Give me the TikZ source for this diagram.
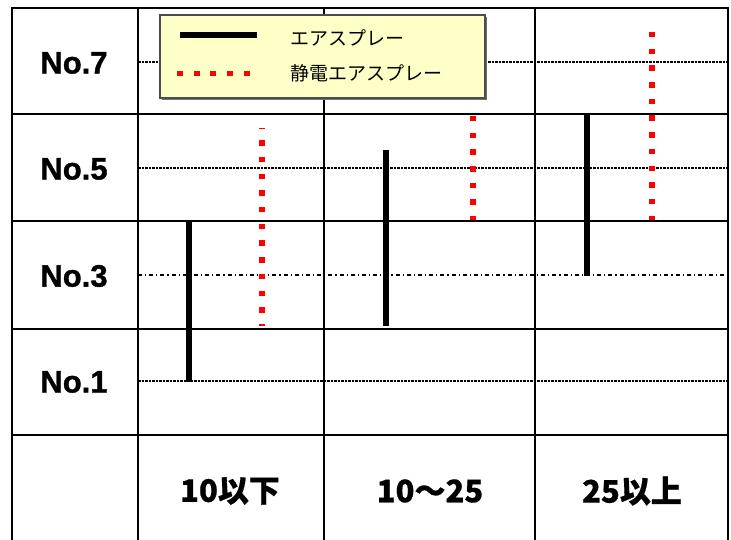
\documentclass[tikz,border=0pt]{standalone}
\usepackage{fontspec}
\setmainfont{Liberation Sans}
\newfontfamily\cjk{Noto Sans CJK JP}
\begin{document}
\begin{tikzpicture}[x=1pt,y=-1pt,
 gridline/.style={line width=1.8pt},
 fineline/.style={line width=1.2pt, dash pattern=on 2.5pt off 1pt},
 dashdotline/.style={line width=1.1pt, dash pattern=on 4pt off 3pt on 1.2pt off 3pt},
 blackbar/.style={line width=6.5pt},
 redbar/.style={line width=6pt, red, dash pattern=on 5.5pt off 11.2pt},
 rowlab/.style={font=\fontsize{31}{33}\selectfont\bfseries\addfontfeature{FakeBold=1.2}},
 collab/.style={font=\fontsize{31}{33}\selectfont\cjk\bfseries\addfontfeature{FakeBold=0.6}},
 legtext/.style={font=\fontsize{19}{21}\selectfont\cjk, anchor=west, inner sep=0pt}
]
\useasboundingbox (0,0) rectangle (731,540);
\fill[white] (0,0) rectangle (731,540);

% level reference lines
\coordinate (l7a) at (138,62);  \coordinate (l7b) at (728,62);
\coordinate (l5a) at (138,168); \coordinate (l5b) at (728,168);
\coordinate (l3a) at (138,275); \coordinate (l3b) at (728,275);
\coordinate (l1a) at (138,381); \coordinate (l1b) at (728,381);
\draw[fineline] (l7a) -- (l7b);
\draw[fineline] (l5a) -- (l5b);
\draw[dashdotline] (l3a) -- (l3b);
\draw[fineline] (l1a) -- (l1b);

% bars
\coordinate (k1t) at (189,221); \coordinate (k1b) at (189,382);
\coordinate (k2t) at (386,150); \coordinate (k2b) at (386,326);
\coordinate (k3t) at (587,114); \coordinate (k3b) at (587,276);
\draw[blackbar] (k1t) -- (k1b);
\draw[blackbar] (k2t) -- (k2b);
\draw[blackbar] (k3t) -- (k3b);
\coordinate (r1t) at (262,128); \coordinate (r1b) at (262,326);
\coordinate (r2t) at (473,116); \coordinate (r2b) at (473,222);
\coordinate (r3t) at (652,32);  \coordinate (r3b) at (652,220);
\draw[redbar, dash phase=4.5pt] (r1t) -- (r1b);
\draw[redbar] (r2t) -- (r2b);
\draw[redbar] (r3t) -- (r3b);

% grid
\foreach \x in {12,138,324,535,728} \draw[gridline] (\x,8) -- (\x,541);
\foreach \y in {8,114,221,329,435} \draw[gridline] (11,\y) -- (729,\y);

% labels
\node[rowlab] (n7) at (74,63) {No.7};
\node[rowlab] (n5) at (74,169) {No.5};
\node[rowlab] (n3) at (74,276) {No.3};
\node[rowlab] (n1) at (74,382) {No.1};
\node[collab] (c1) at (230,491) {10以下};
\node[collab] (c2) at (430,491) {10～25};
\node[collab] (c3) at (632,491) {25以上};

% legend
\fill[black!55] (162,17) rectangle (487,100);
\draw[line width=1.2pt, draw=black!70, fill={rgb,255:red,255;green,255;blue,200}] (160,15) rectangle (485,98);
\coordinate (lga) at (180,35); \coordinate (lgb) at (257,35);
\coordinate (lra) at (177,74); \coordinate (lrb) at (257,74);
\draw[line width=6.5pt] (lga) -- (lgb);
\draw[redbar, line width=5pt, dash pattern=on 6pt off 10.7pt] (lra) -- (lrb);
\node[legtext] (t1) at (290,38) {エアスプレー};
\node[legtext] (t2) at (290,73) {静電エアスプレー};
\end{tikzpicture}
\end{document}
